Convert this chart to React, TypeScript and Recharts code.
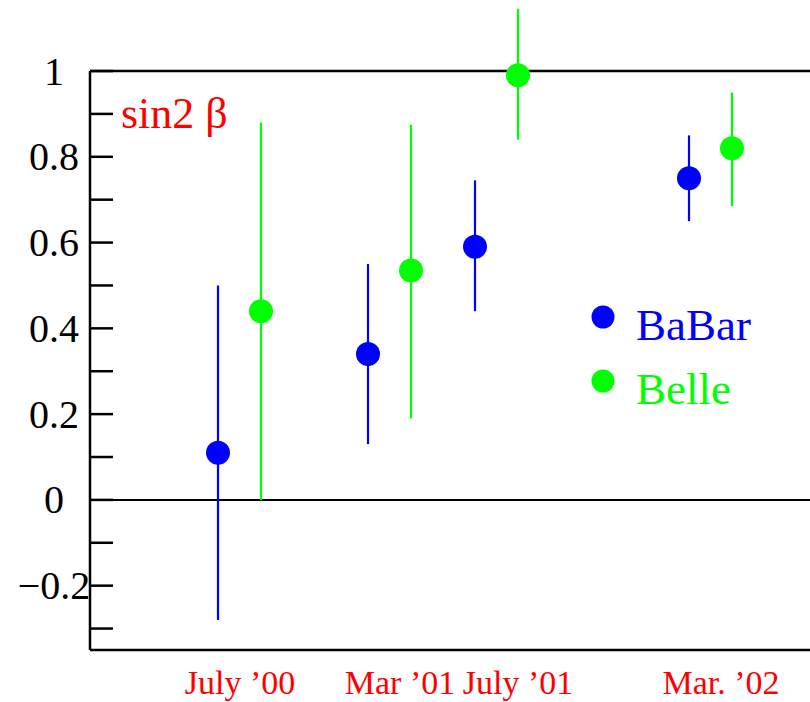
import { ComposedChart, Scatter, ErrorBar, XAxis, YAxis, ReferenceLine, Legend } from "recharts"

const SERIF = '"Liberation Serif", "Times New Roman", serif'

// measurement epochs (labels) and their position on the time axis
const periods = ["July ’00", "Mar ’01", "July ’01", "Mar. ’02"]
const periodX = [3.0, 6.2, 8.56, 12.62]

const babarX = [2.56, 5.56, 7.7, 11.98]
const babarY = [0.11, 0.34, 0.59, 0.75]
const babarErrLow = [0.39, 0.21, 0.15, 0.1]
const babarErrHigh = [0.39, 0.21, 0.155, 0.1]

const belleX = [3.42, 6.42, 8.56, 12.84]
const belleY = [0.44, 0.535, 0.99, 0.82]
const belleErrLow = [0.44, 0.345, 0.15, 0.135]
const belleErrHigh = [0.44, 0.34, 0.155, 0.13]

const yTicks = [-0.3, -0.2, -0.1, 0, 0.1, 0.2, 0.3, 0.4, 0.5, 0.6, 0.7, 0.8, 0.9, 1]
const yLabelled = [-0.2, 0, 0.2, 0.4, 0.6, 0.8, 1]

const babarData = babarX.map((x, i) => ({ x, y: babarY[i], err: [babarErrLow[i], babarErrHigh[i]] }))
const belleData = belleX.map((x, i) => ({ x, y: belleY[i], err: [belleErrLow[i], belleErrHigh[i]] }))

const yLabel = (v: number) => {
  if (!yLabelled.some((t) => Math.abs(t - v) < 1e-6)) return ""
  if (v < 0) return "\u2212" + String(Math.abs(v))
  return String(v)
}

const YTick = (props: any) => {
  const text = yLabel(props.payload.value)
  if (!text) return null
  return (
    <text x={props.x} y={props.y} dy="0.34em" textAnchor="middle" fontFamily={SERIF} fontSize={40} fill="#000">
      {text}
    </text>
  )
}

const XTick = (props: any) => {
  const i = periodX.indexOf(props.payload.value)
  return (
    <text x={props.x} y={props.y} dy={44} textAnchor="middle" fontFamily={SERIF} fontSize={34} fill="#ff0000">
      {periods[i]}
    </text>
  )
}

const Dot = (color: string) => (props: any) => <circle cx={props.cx} cy={props.cy} r={12} fill={color} />

const LegendBox = (props: any) => (
  <svg width={200} height={130}>
    {(props.payload || []).map((entry: any, i: number) => (
      <g key={entry.value}>
        <circle cx={15} cy={20 + i * 64} r={11.5} fill={entry.color} />
        <text x={48} y={43 + i * 64} fontFamily={SERIF} fontSize={45} fill={entry.color}>
          {entry.value}
        </text>
      </g>
    ))}
  </svg>
)

export default function App() {
  return (
    <div style={{ position: "absolute", left: 0, top: 0, width: 810, height: 702, overflow: "hidden", background: "#fff" }}>
      <ComposedChart width={830} height={702} margin={{ top: 2.4, right: 0, bottom: 0, left: 0 }}>
        <XAxis
          type="number"
          dataKey="x"
          domain={[0, 14.56]}
          ticks={periodX}
          interval={0}
          height={52}
          tickSize={0}
          tickMargin={0}
          tickLine={false}
          axisLine={{ stroke: "#000", strokeWidth: 2.5 }}
          tick={XTick}
        />
        <YAxis
          yAxisId="left"
          type="number"
          domain={[-0.35, 1.16]}
          ticks={yTicks}
          interval={0}
          width={90}
          tickSize={-23}
          tickMargin={59}
          axisLine={false}
          tickLine={{ stroke: "#000", strokeWidth: 2.5 }}
          tick={YTick}
        />
        <YAxis
          yAxisId="right"
          orientation="right"
          type="number"
          domain={[-0.35, 1.16]}
          ticks={yTicks}
          interval={0}
          width={12}
          tickSize={-23}
          axisLine={false}
          tickLine={{ stroke: "#000", strokeWidth: 2.5 }}
          tick={false}
        />
        <ReferenceLine yAxisId="left" y={1} stroke="#000" strokeWidth={2.5} />
        <ReferenceLine yAxisId="left" y={0} stroke="#000" strokeWidth={2} />
        <ReferenceLine
          yAxisId="left"
          segment={[
            { x: 0, y: -0.35 },
            { x: 0, y: 1 },
          ]}
          stroke="#000"
          strokeWidth={2.5}
        />
        <Scatter yAxisId="left" name="BaBar" data={babarData} dataKey="y" fill="#0000ff" shape={Dot("#0000ff")} isAnimationActive={false}>
          <ErrorBar dataKey="err" direction="y" width={0} stroke="#0000ff" strokeWidth={2.2} isAnimationActive={false} />
        </Scatter>
        <Scatter yAxisId="left" name="Belle" data={belleData} dataKey="y" fill="#00ff00" shape={Dot("#00ff00")} isAnimationActive={false}>
          <ErrorBar dataKey="err" direction="y" width={0} stroke="#00ff00" strokeWidth={2.2} isAnimationActive={false} />
        </Scatter>
        <Legend
          layout="vertical"
          align="center"
          verticalAlign="middle"
          content={LegendBox}
          wrapperStyle={{ position: "absolute", left: 588, top: 297, width: 200, height: 130 }}
        />
      </ComposedChart>
      <svg style={{ position: "absolute", left: 0, top: 0, pointerEvents: "none" }} width={810} height={702}>
        <text x={121} y={128} fontFamily={SERIF} fontSize={44} fill="#ff0000">
          sin2 β
        </text>
      </svg>
    </div>
  )
}
